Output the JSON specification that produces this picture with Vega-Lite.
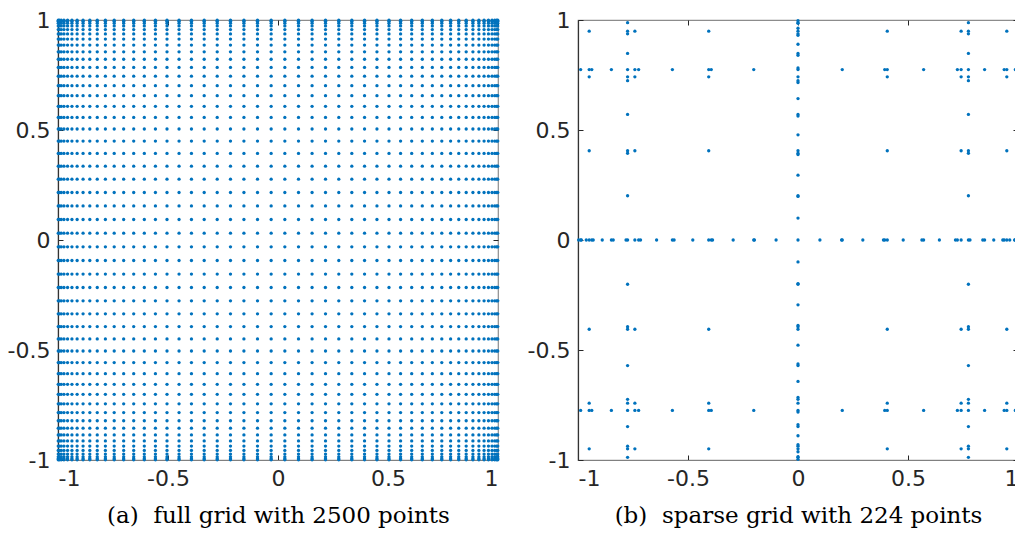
{
  "$schema": "https://vega.github.io/schema/vega-lite/v6.json",
  "background": "white",
  "padding": {"left": 6, "top": 8, "right": 0, "bottom": 0},
  "bounds": "flush",
  "spacing": 80,
  "config": {
    "view": {"stroke": "#8c8c8c", "strokeWidth": 1.2},
    "axis": {
      "labelFont": "DejaVu Sans", "labelFontSize": 22, "labelColor": "#262626",
      "tickColor": "#262626", "tickSize": -5, "tickWidth": 1, "grid": false,
      "titleFont": "DejaVu Serif", "titleFontSize": 23, "titleFontWeight": "normal", "titleColor": "#000000"
    }
  },
  "hconcat": [
    {
      "width": 440, "height": 440,
      "layer": [
        {
          "data": {"values": [{"xs": [-0.9989,-0.9940,-0.9854,-0.9729,-0.9566,-0.9367,-0.9131,-0.8860,-0.8554,-0.8216,-0.7846,-0.7445,-0.7015,-0.6559,-0.6077,-0.5572,-0.5045,-0.4498,-0.3934,-0.3355,-0.2763,-0.2160,-0.1549,-0.0932,-0.0311,0.0311,0.0932,0.1549,0.2160,0.2763,0.3355,0.3934,0.4498,0.5045,0.5572,0.6077,0.6559,0.7015,0.7445,0.7846,0.8216,0.8554,0.8860,0.9131,0.9367,0.9566,0.9729,0.9854,0.9940,0.9989],
                                "ys": [-0.9989,-0.9940,-0.9854,-0.9729,-0.9566,-0.9367,-0.9131,-0.8860,-0.8554,-0.8216,-0.7846,-0.7445,-0.7015,-0.6559,-0.6077,-0.5572,-0.5045,-0.4498,-0.3934,-0.3355,-0.2763,-0.2160,-0.1549,-0.0932,-0.0311,0.0311,0.0932,0.1549,0.2160,0.2763,0.3355,0.3934,0.4498,0.5045,0.5572,0.6077,0.6559,0.7015,0.7445,0.7846,0.8216,0.8554,0.8860,0.9131,0.9367,0.9566,0.9729,0.9854,0.9940,0.9989]}]},
          "transform": [{"flatten": ["xs"], "as": ["x"]}, {"flatten": ["ys"], "as": ["y"]}],
          "mark": {"type": "point", "filled": true, "size": 11, "opacity": 1, "color": "#0072BD", "clip": false, "strokeWidth": 0},
          "encoding": {
            "x": {"field": "x", "type": "quantitative", "scale": {"domain": [-1, 1], "nice": false, "zero": false},
                  "axis": {"orient": "bottom", "values": [-1, -0.5, 0, 0.5, 1], "labelExpr": "'' + datum.value", "labelPadding": 13, "domainColor": "#808080", "domainWidth": 1.2, "title": "(a)\u00a0 full grid with 2500 points", "titlePadding": 15}},
            "y": {"field": "y", "type": "quantitative", "scale": {"domain": [-1, 1], "nice": false, "zero": false},
                  "axis": {"orient": "left", "values": [-1, -0.5, 0, 0.5, 1], "labelExpr": "'' + datum.value", "labelPadding": 13, "domainColor": "#333333", "domainWidth": 1.2, "title": null}}
          }
        },
        {
          "data": {"values": [{"x": 0, "y": 0}]},
          "mark": {"type": "point", "opacity": 0},
          "encoding": {
            "x": {"field": "x", "type": "quantitative", "scale": {"domain": [-1, 1], "nice": false, "zero": false},
                  "axis": {"orient": "top", "values": [-1, -0.5, 0, 0.5, 1], "labels": false, "domain": false, "title": null}},
            "y": {"field": "y", "type": "quantitative", "scale": {"domain": [-1, 1], "nice": false, "zero": false},
                  "axis": {"orient": "right", "values": [-1, -0.5, 0, 0.5, 1], "labels": false, "domain": false, "title": null}}
          }
        }
      ],
      "resolve": {"axis": {"x": "independent", "y": "independent"}}
    },
    {
      "width": 440, "height": 440,
      "layer": [
        {
          "data": {"values": [
            {"xs": [0], "ys": [0]},
            {"xs": [0], "ys": [-0.9880,-0.9491,-0.9373,-0.8482,-0.7746,-0.7415,-0.7244,-0.5710,-0.4058,-0.3942,-0.2012,0.2012,0.3942,0.4058,0.5710,0.7244,0.7415,0.7746,0.8482,0.9373,0.9491,0.9880,-0.9971,-0.9847,-0.9625,-0.9308,-0.8898,-0.8399,-0.7817,-0.7158,-0.6427,-0.5632,-0.4782,-0.3884,-0.2947,-0.1981,-0.0996,0.0996,0.1981,0.2947,0.3884,0.4782,0.5632,0.6427,0.7158,0.7817,0.8399,0.8898,0.9308,0.9625,0.9847,0.9971]},
            {"xs": [-0.9880,-0.9491,-0.9373,-0.8482,-0.7746,-0.7415,-0.7244,-0.5710,-0.4058,-0.3942,-0.2012,0.2012,0.3942,0.4058,0.5710,0.7244,0.7415,0.7746,0.8482,0.9373,0.9491,0.9880,-0.9971,-0.9847,-0.9625,-0.9308,-0.8898,-0.8399,-0.7817,-0.7158,-0.6427,-0.5632,-0.4782,-0.3884,-0.2947,-0.1981,-0.0996,0.0996,0.1981,0.2947,0.3884,0.4782,0.5632,0.6427,0.7158,0.7817,0.8399,0.8898,0.9308,0.9625,0.9847,0.9971], "ys": [0]},
            {"xs": [-0.7746,0.7746], "ys": [-0.9880,-0.9491,-0.9373,-0.8482,-0.7746,-0.7415,-0.7244,-0.5710,-0.4058,-0.3942,-0.2012,0.2012,0.3942,0.4058,0.5710,0.7244,0.7415,0.7746,0.8482,0.9373,0.9491,0.9880]},
            {"xs": [-0.9491,-0.7415,-0.4058,0.4058,0.7415,0.9491], "ys": [-0.9491,-0.7746,-0.7415,-0.4058,0.4058,0.7415,0.7746,0.9491]},
            {"xs": [-0.9880,-0.9373,-0.8482,-0.7244,-0.5710,-0.3942,-0.2012,0.2012,0.3942,0.5710,0.7244,0.8482,0.9373,0.9880], "ys": [-0.7746,0.7746]}
          ]},
          "transform": [{"flatten": ["xs"], "as": ["x"]}, {"flatten": ["ys"], "as": ["y"]}],
          "mark": {"type": "point", "filled": true, "size": 11, "opacity": 1, "color": "#0072BD", "clip": false, "strokeWidth": 0},
          "encoding": {
            "x": {"field": "x", "type": "quantitative", "scale": {"domain": [-1, 1], "nice": false, "zero": false},
                  "axis": {"orient": "bottom", "values": [-1, -0.5, 0, 0.5, 1], "labelExpr": "'' + datum.value", "labelPadding": 13, "domainColor": "#808080", "domainWidth": 1.2, "title": "(b)\u00a0 sparse grid with 224 points", "titlePadding": 15}},
            "y": {"field": "y", "type": "quantitative", "scale": {"domain": [-1, 1], "nice": false, "zero": false},
                  "axis": {"orient": "left", "values": [-1, -0.5, 0, 0.5, 1], "labelExpr": "'' + datum.value", "labelPadding": 13, "domainColor": "#333333", "domainWidth": 1.2, "title": null}}
          }
        },
        {
          "data": {"values": [{"x": 0, "y": 0}]},
          "mark": {"type": "point", "opacity": 0},
          "encoding": {
            "x": {"field": "x", "type": "quantitative", "scale": {"domain": [-1, 1], "nice": false, "zero": false},
                  "axis": {"orient": "top", "values": [-1, -0.5, 0, 0.5, 1], "labels": false, "domain": false, "title": null}},
            "y": {"field": "y", "type": "quantitative", "scale": {"domain": [-1, 1], "nice": false, "zero": false},
                  "axis": {"orient": "right", "values": [-1, -0.5, 0, 0.5, 1], "labels": false, "domain": false, "title": null}}
          }
        }
      ],
      "resolve": {"axis": {"x": "independent", "y": "independent"}}
    }
  ]
}
